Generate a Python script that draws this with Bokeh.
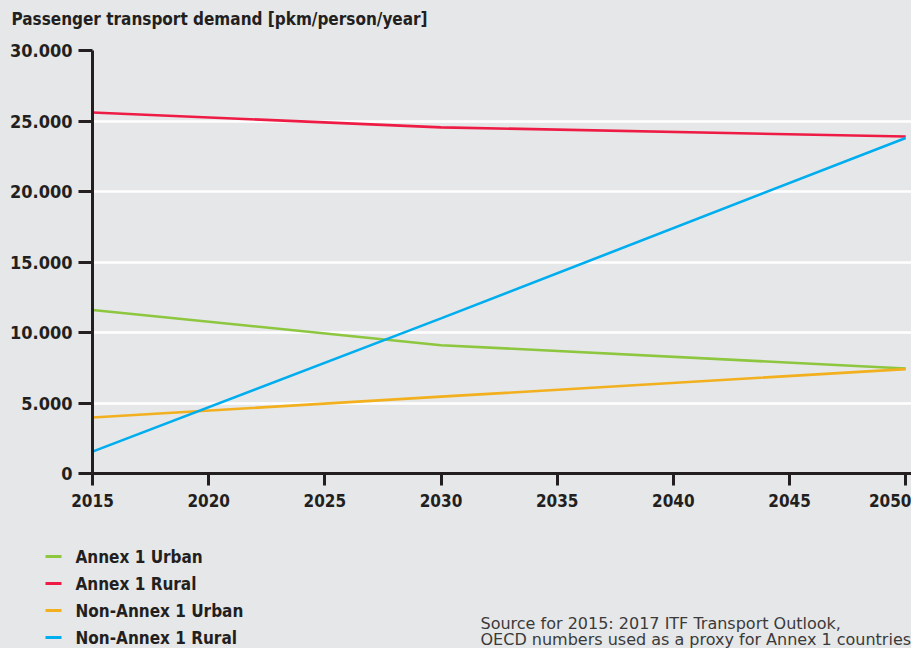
from bokeh.plotting import figure
from bokeh.models import Range1d, FixedTicker
from bokeh.layouts import column
from bokeh.core.properties import value
from bokeh.embed import file_html
from bokeh.resources import INLINE

# ---------------- data ----------------
years = [2015, 2030, 2050]
annex1_urban = [11600, 9100, 7450]
annex1_rural = [25600, 24550, 23900]
non_annex1_urban = [3970, 5450, 7400]
non_annex1_rural = [1550, 11000, 23800]

series_names = ["Annex 1 Urban", "Annex 1 Rural", "Non-Annex 1 Urban", "Non-Annex 1 Rural"]
series_colors = ["#8dc63f", "#ee1c45", "#f2b01e", "#00aeef"]

x_ticks = [2015, 2020, 2025, 2030, 2035, 2040, 2045, 2050]
y_ticks = [0, 5000, 10000, 15000, 20000, 25000, 30000]
y_tick_labels = ["0", "5.000", "10.000", "15.000", "20.000", "25.000", "30.000"]

title_text = "Passenger transport demand [pkm/person/year]"
source_lines = ["Source for 2015: 2017 ITF Transport Outlook,",
                "OECD numbers used as a proxy for Annex 1 countries"]

# ---------------- style ----------------
BG = "#e6e7e8"
INK = "#231f20"
COND = "DejaVu Sans Condensed"
W = 911
H_TOP, H_MAIN, H_BOT = 34, 487, 127


def blank_fig(h):
    f = figure(width=W, height=h, output_backend="svg", toolbar_location=None,
               x_range=Range1d(0, W), y_range=Range1d(h, 0),
               x_axis_type=None, y_axis_type=None, frame_align=False,
               min_border=0, min_border_left=0, min_border_right=0,
               min_border_top=0, min_border_bottom=0)
    f.background_fill_color = BG
    f.border_fill_color = BG
    f.outline_line_color = None
    f.grid.visible = False
    f.styles = {"background-color": BG}
    return f


# ---- title strip ----
top = blank_fig(H_TOP)
top.text(x=[11], y=[18], text=[title_text], text_font=value(COND),
         text_font_style="bold", text_font_size="17px", text_color=INK,
         text_baseline="middle", text_align="left")

# ---- main chart ----
p = figure(width=W, height=H_MAIN, output_backend="svg", toolbar_location=None,
           x_range=Range1d(2015, 2050.25), y_range=Range1d(0, 30000),
           min_border_left=92, min_border_right=0, min_border_top=16,
           min_border_bottom=48, frame_align=False)
p.background_fill_color = BG
p.border_fill_color = BG
p.outline_line_color = None
p.styles = {"background-color": BG}

p.xgrid.grid_line_color = None
p.ygrid.grid_line_color = "white"
p.ygrid.grid_line_width = 2.5
p.ygrid.ticker = FixedTicker(ticks=y_ticks)

for ax in (p.xaxis[0], p.yaxis[0]):
    ax.axis_line_color = INK
    ax.axis_line_width = 3
    ax.major_tick_line_color = INK
    ax.major_tick_line_width = 3
    ax.minor_tick_line_color = None
    ax.major_tick_in = 0
    ax.major_label_text_font = COND
    ax.major_label_text_font_style = "bold"
    ax.major_label_text_color = INK

p.xaxis.ticker = FixedTicker(ticks=x_ticks)
p.xaxis.major_tick_out = 12
p.xaxis.major_label_standoff = 8
p.xaxis.major_label_text_font_size = "17px"
p.yaxis.ticker = FixedTicker(ticks=y_ticks)
p.yaxis.major_label_overrides = {t: s for t, s in zip(y_ticks, y_tick_labels)}
p.yaxis.major_tick_out = 14
p.yaxis.major_label_standoff = 6
p.yaxis.major_label_text_font_size = "18px"

for vals, color in zip([annex1_urban, annex1_rural, non_annex1_urban, non_annex1_rural],
                       series_colors):
    p.line(years, vals, line_color=color, line_width=2.6)

# ---- legend + source strip ----
bot = blank_fig(H_BOT)
row_y = [35 + 27 * i for i in range(len(series_names))]
bot.segment(x0=[45] * 4, y0=row_y, x1=[61] * 4, y1=row_y,
            line_color=series_colors, line_width=3)
bot.text(x=[75] * 4, y=row_y, text=series_names, text_font=value(COND),
         text_font_style="bold", text_font_size="17px", text_color=INK,
         text_baseline="middle", text_align="left")
bot.text(x=[480, 480], y=[102, 118], text=source_lines, text_font=value("DejaVu Sans"),
         text_font_size="16px", text_color="#3a3a3a",
         text_baseline="middle", text_align="left")

layout = column(top, p, bot, spacing=0)
layout.styles = {"background-color": BG}
html = file_html(layout, INLINE)
html = html.replace("<body>", '<body style="background-color:#e6e7e8;">', 1)
open("out.html", "w").write(html)
